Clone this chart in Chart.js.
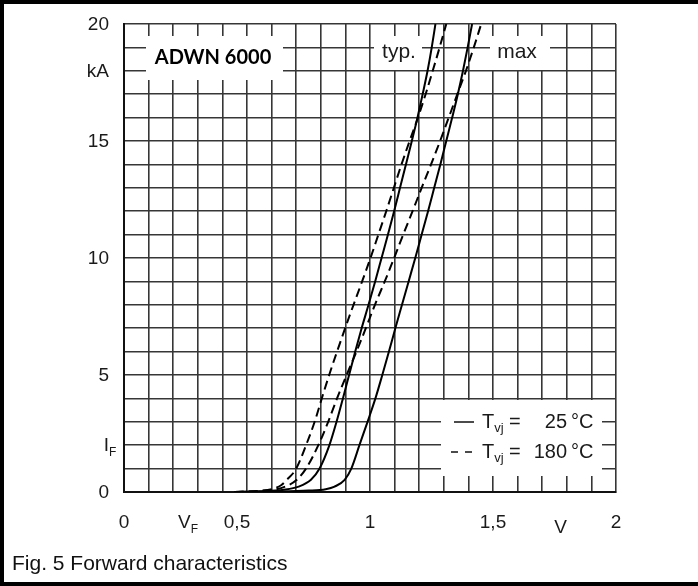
<!DOCTYPE html>
<html>
<head>
<meta charset="utf-8">
<script src="https://cdn.jsdelivr.net/npm/chart.js@4/dist/chart.umd.min.js"></script>
<style>
  html, body { margin: 0; padding: 0; background: #fff; }
  canvas { display: block; }
</style>
</head>
<body>
<canvas id="fwdChart" width="698" height="586"></canvas>
<script>
// forward voltage (V) vs forward current (kA), read per curve
const voltTyp25 = [0.45, 0.55, 0.65, 0.71, 0.76, 0.795, 0.835, 0.864, 0.89, 0.915, 0.94, 0.966, 0.994, 1.021, 1.047, 1.073, 1.098, 1.122, 1.146, 1.17, 1.193, 1.214, 1.234, 1.251, 1.266];
const ampTyp25 = [0, 0.03, 0.1, 0.23, 0.52, 1, 2, 3, 4, 5, 6, 7, 8, 9, 10, 11, 12, 13, 14, 15, 16, 17, 18, 19, 20];

const voltMax25 = [0.45, 0.6, 0.75, 0.82, 0.856, 0.897, 0.924, 0.957, 0.99, 1.022, 1.05, 1.077, 1.103, 1.13, 1.157, 1.184, 1.21, 1.236, 1.261, 1.286, 1.31, 1.334, 1.357, 1.378, 1.397, 1.415];
const ampMax25 = [0, 0.02, 0.06, 0.12, 0.23, 0.52, 1, 2, 3, 4, 5, 6, 7, 8, 9, 10, 11, 12, 13, 14, 15, 16, 17, 18, 19, 20];

const voltTyp180 = [0.45, 0.55, 0.6, 0.64, 0.66, 0.70, 0.74, 0.775, 0.804, 0.834, 0.866, 0.899, 0.933, 0.968, 1.002, 1.034, 1.066, 1.097, 1.128, 1.161, 1.195, 1.226, 1.255, 1.283, 1.31];
const ampTyp180 = [0, 0.05, 0.12, 0.3, 0.5, 1, 2, 3, 4, 5, 6, 7, 8, 9, 10, 11, 12, 13, 14, 15, 16, 17, 18, 19, 20];

const voltMax180 = [0.45, 0.55, 0.62, 0.67, 0.70, 0.74, 0.79, 0.83, 0.866, 0.905, 0.945, 0.983, 1.02, 1.06, 1.098, 1.135, 1.173, 1.21, 1.248, 1.285, 1.32, 1.355, 1.39, 1.422, 1.452];
const ampMax180 = [0, 0.04, 0.12, 0.3, 0.5, 1, 2, 3, 4, 5, 6, 7, 8, 9, 10, 11, 12, 13, 14, 15, 16, 17, 18, 19, 20];

// axis labels; "|" splits a subscript off the main text
const yTickValues = [20, 18, 15, 10, 5, 2, 0];
const yTickLabels = ['20', 'kA', '15', '10', '5', 'I|F', '0'];
const xTickValues = [0, 0.26, 0.5, 1, 1.5, 1.775, 2];
const xTickLabels = ['0', 'V|F', '0,5', '1', '1,5', 'V', '2'];

const toPoints = (xs, ys) => xs.map((x, i) => ({ x: x, y: ys[i] }));

const FONT = '"Liberation Sans", Arial, sans-serif';

function drawSub(ctx, text, x, y, align, size) {
    const parts = text.split('|');
    const main = parts[0], sub = parts[1] || '';
    ctx.font = size + 'px ' + FONT;
    const w1 = ctx.measureText(main).width;
    ctx.font = Math.round(size * 0.65) + 'px ' + FONT;
    const w2 = ctx.measureText(sub).width;
    let x0 = x;
    if (align === 'center') x0 = x - (w1 + w2) / 2;
    else if (align === 'right') x0 = x - w1;
    ctx.textAlign = 'left';
    ctx.textBaseline = 'middle';
    ctx.font = size + 'px ' + FONT;
    ctx.fillText(main, x0, y);
    if (sub) {
        ctx.font = Math.round(size * 0.65) + 'px ' + FONT;
        ctx.fillText(sub, x0 + w1, y + size * 0.33);
    }
}

const decorations = {
    id: 'decorations',
    beforeDraw(chart) {
        const ctx = chart.ctx;
        ctx.save();
        ctx.fillStyle = '#fff';
        ctx.fillRect(0, 0, chart.width, chart.height);
        ctx.restore();
    },
    beforeDatasetsDraw(chart) {
        // white label boxes knock out the grid underneath
        const ctx = chart.ctx;
        ctx.save();
        ctx.fillStyle = '#fff';
        ctx.fillRect(146, 36, 137, 44);
        ctx.fillRect(374, 36, 48, 34);
        ctx.fillRect(490, 36, 60, 34);
        ctx.fillRect(441, 400, 161, 76);
        ctx.restore();
    },
    afterDraw(chart) {
        const ctx = chart.ctx;
        const xs = chart.scales.x, ys = chart.scales.y;
        ctx.save();
        ctx.fillStyle = '#1a1a1a';

        yTickValues.forEach((v, i) => {
            drawSub(ctx, yTickLabels[i], 109, ys.getPixelForValue(v) + 1, 'right', 19);
        });
        xTickValues.forEach((v, i) => {
            let dy = 523;
            let dx = 0;
            if (xTickLabels[i] === 'V') dy = 528;
            if (xTickLabels[i] === '0,5') dx = -10;
            drawSub(ctx, xTickLabels[i], xs.getPixelForValue(v) + dx, dy, 'center', 19);
        });

        // curve group labels
        ctx.font = 'bold 20px Lato, "Open Sans", sans-serif';
        ctx.textAlign = 'center';
        ctx.textBaseline = 'middle';
        ctx.fillStyle = '#000';
        ctx.fillText('ADWN 6000', 213, 58);
        ctx.fillStyle = '#1a1a1a';
        ctx.font = '21px ' + FONT;
        ctx.fillText('typ.', 399, 52);
        ctx.fillText('max', 517, 52);

        // temperature key
        ctx.strokeStyle = '#111';
        ctx.lineWidth = 1.5;
        ctx.beginPath();
        ctx.moveTo(454, 422); ctx.lineTo(474, 422);
        ctx.moveTo(451, 452); ctx.lineTo(458, 452);
        ctx.moveTo(465, 452); ctx.lineTo(472, 452);
        ctx.stroke();
        [[422, '25'], [452, '180']].forEach(([y, t]) => {
            drawSub(ctx, 'T|vj', 482, y, 'left', 20);
            ctx.font = '20px ' + FONT;
            ctx.textBaseline = 'middle';
            ctx.textAlign = 'left';
            ctx.fillText('=', 509, y);
            ctx.textAlign = 'right';
            ctx.fillText(t, 567, y);
            ctx.textAlign = 'left';
            ctx.fillText('°C', 571, y);
        });

        // caption and page frame
        ctx.font = '21px ' + FONT;
        ctx.textAlign = 'left';
        ctx.textBaseline = 'middle';
        ctx.fillStyle = '#111';
        ctx.fillText('Fig. 5 Forward characteristics', 12, 564);
        ctx.fillStyle = '#000';
        ctx.fillRect(0, 0, chart.width, 4);
        ctx.fillRect(0, 0, 4, chart.height);
        ctx.fillRect(0, chart.height - 4, chart.width, 4);
        ctx.restore();
    }
};

function curve(label, xs, ys, dash) {
    return {
        label: label,
        data: toPoints(xs, ys),
        showLine: true,
        borderColor: '#000',
        borderWidth: 2,
        borderDash: dash,
        pointRadius: 0,
        cubicInterpolationMode: 'monotone',
        fill: false
    };
}

new Chart(document.getElementById('fwdChart').getContext('2d'), {
    type: 'scatter',
    data: {
        datasets: [
            curve('typ 25 °C', voltTyp25, ampTyp25, []),
            curve('max 25 °C', voltMax25, ampMax25, []),
            curve('typ 180 °C', voltTyp180, ampTyp180, [9, 5]),
            curve('max 180 °C', voltMax180, ampMax180, [9, 5])
        ]
    },
    options: {
        responsive: false,
        animation: false,
        layout: { padding: { left: 124, right: 82, top: 24, bottom: 94 } },
        plugins: { legend: { display: false }, tooltip: { enabled: false } },
        scales: {
            x: {
                type: 'linear', min: 0, max: 2,
                ticks: { display: false, stepSize: 0.1 },
                grid: { color: '#363636', lineWidth: 1.6, drawTicks: false },
                border: { display: true, color: '#111', width: 2 }
            },
            y: {
                type: 'linear', min: 0, max: 20,
                ticks: { display: false, stepSize: 1 },
                grid: { color: '#363636', lineWidth: 1.6, drawTicks: false },
                border: { display: true, color: '#111', width: 2 }
            }
        }
    },
    plugins: [decorations]
});
</script>
</body>
</html>
